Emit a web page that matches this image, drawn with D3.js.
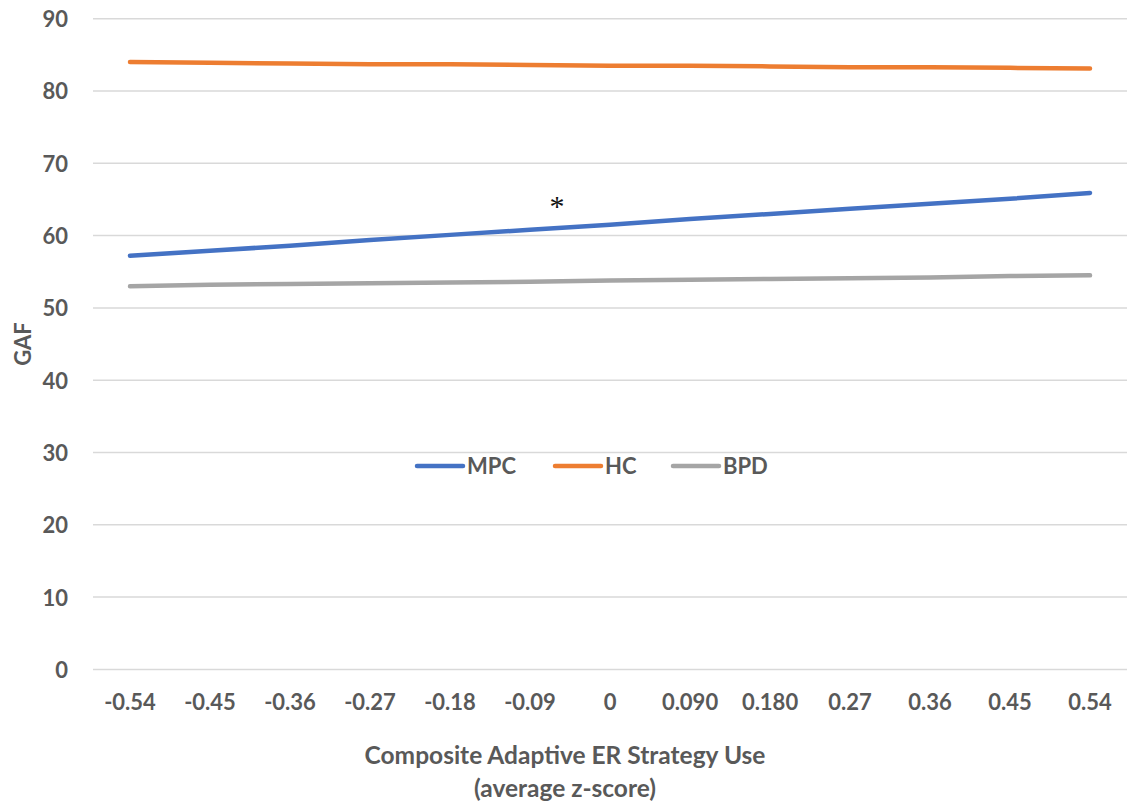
<!DOCTYPE html>
<html><head><meta charset="utf-8">
<script src="https://cdn.jsdelivr.net/npm/d3@7"></script>
<style>body{margin:0;background:#fff;overflow:hidden}svg{display:block}</style>
</head><body>
<svg id="c" width="1127" height="805"></svg>
<script>
const categories = ["-0.54","-0.45","-0.36","-0.27","-0.18","-0.09","0","0.090","0.180","0.27","0.36","0.45","0.54"];
const mpc = [57.2,57.9,58.6,59.4,60.1,60.8,61.5,62.3,63.0,63.7,64.4,65.1,65.9];
const hc  = [84.0,83.9,83.8,83.7,83.7,83.6,83.5,83.5,83.4,83.3,83.3,83.2,83.1];
const bpd = [53.0,53.2,53.3,53.4,53.5,53.6,53.8,53.9,54.0,54.1,54.2,54.4,54.5];
const yTicks = [0,10,20,30,40,50,60,70,80,90];
const seriesNames = ["MPC","HC","BPD"];
const colors = ["#4472C4","#ED7D31","#A5A5A5"];

const svg = d3.select("#c");
const font = "Lato, 'Open Sans', sans-serif";
const textColor = "#595959";
const x = d3.scaleBand().domain(categories).range([90,1130]);
const y = d3.scaleLinear().domain([0,90]).range([669.4,18.7]);

// gridlines
svg.append("g").selectAll("line").data(yTicks).join("line")
  .attr("x1",93).attr("x2",1130)
  .attr("y1",d=>y(d)).attr("y2",d=>y(d))
  .attr("stroke","#D9D9D9").attr("stroke-width",1.5);

// y axis labels
const yAxis = d3.axisLeft(y).tickValues(yTicks).tickSize(0).tickPadding(0);
const yg = svg.append("g").attr("transform","translate(68,0)").call(yAxis);
yg.select(".domain").remove();
yg.selectAll("text").attr("font-family",font).attr("font-weight","bold")
  .attr("font-size",22).attr("fill",textColor).attr("dy","0.36em");

// x axis labels
const xAxis = d3.axisBottom(x).tickSize(0).tickPadding(0);
const xg = svg.append("g").attr("transform","translate(0,694)").call(xAxis);
xg.select(".domain").remove();
xg.selectAll("text").attr("font-family",font).attr("font-weight","bold")
  .attr("font-size",22).attr("fill",textColor).attr("dy","0.71em");

// lines
const data = [mpc,hc,bpd];
const line = d3.line().x((d,i)=>x(categories[i])+x.bandwidth()/2).y(d=>y(d));
svg.append("g").selectAll("path").data(data).join("path")
  .attr("d",line).attr("fill","none")
  .attr("stroke",(d,i)=>colors[i]).attr("stroke-width",4.5).attr("stroke-linecap","round");

// asterisk
svg.append("text").attr("x",557).attr("y",216).attr("text-anchor","middle")
  .attr("font-family","'Liberation Serif', serif").attr("font-size",30).attr("fill","#111").text("*");

// legend
const legX = [417,555,673];
const lg = svg.append("g");
seriesNames.forEach((n,i)=>{
  lg.append("line").attr("x1",legX[i]).attr("x2",legX[i]+46).attr("y1",466).attr("y2",466)
    .attr("stroke",colors[i]).attr("stroke-width",4.5).attr("stroke-linecap","round");
  lg.append("text").attr("x",legX[i]+50).attr("y",466).attr("dy","0.36em")
    .attr("font-family",font).attr("font-weight","bold").attr("font-size",22)
    .attr("fill",textColor).text(n);
});

// axis titles
svg.append("text").attr("transform","translate(23,344) rotate(-90)")
  .attr("text-anchor","middle").attr("dy","0.36em")
  .attr("font-family",font).attr("font-weight","bold").attr("font-size",22)
  .attr("fill",textColor).text("GAF");
svg.append("text").attr("x",565).attr("y",764).attr("text-anchor","middle")
  .attr("font-family",font).attr("font-weight","bold").attr("font-size",24.5)
  .attr("fill",textColor).text("Composite Adaptive ER Strategy Use");
svg.append("text").attr("x",565).attr("y",797).attr("text-anchor","middle")
  .attr("font-family",font).attr("font-weight","bold").attr("font-size",24.5)
  .attr("fill",textColor).text("(average z-score)");
</script>
</body></html>
